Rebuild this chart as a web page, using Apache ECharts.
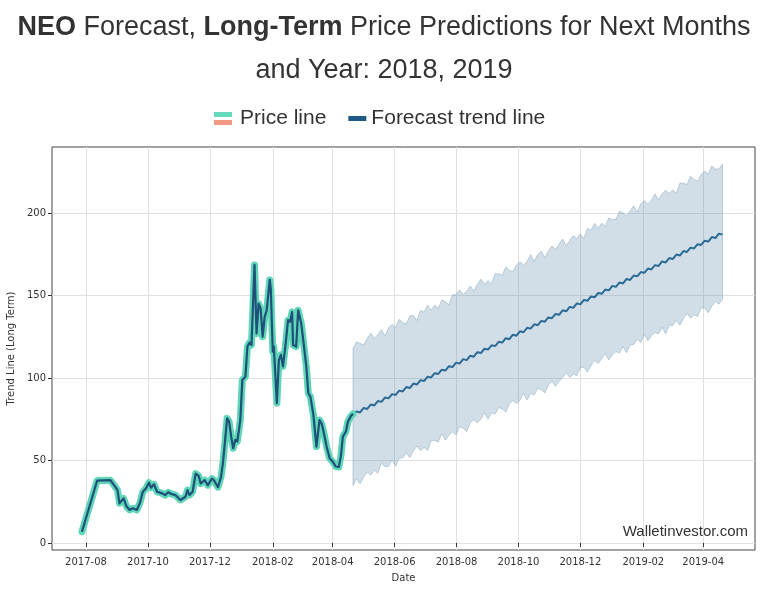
<!DOCTYPE html>
<html>
<head>
<meta charset="utf-8">
<script src="https://cdn.jsdelivr.net/npm/echarts@6/dist/echarts.min.js"></script>
<style>
html,body{margin:0;padding:0;background:#fff;}
#chart{width:768px;height:592px;}
</style>
</head>
<body>
<div id="chart"></div>
<script>
// ---------- data ----------
const priceDates = ['2017-07-28','2017-08-12','2017-08-25','2017-08-29','2017-09-01','2017-09-03','2017-09-07','2017-09-10','2017-09-13','2017-09-16','2017-09-20','2017-09-23','2017-09-26','2017-09-29','2017-10-02','2017-10-04','2017-10-07','2017-10-10','2017-10-15','2017-10-18','2017-10-21','2017-10-24','2017-10-28','2017-11-02','2017-11-07','2017-11-09','2017-11-11','2017-11-14','2017-11-17','2017-11-20','2017-11-22','2017-11-26','2017-11-29','2017-12-03','2017-12-05','2017-12-09','2017-12-12','2017-12-14','2017-12-18','2017-12-20','2017-12-22','2017-12-24','2017-12-26','2017-12-28','2017-12-31','2018-01-02','2018-01-05','2018-01-07','2018-01-09','2018-01-11','2018-01-14','2018-01-16','2018-01-18','2018-01-20','2018-01-22','2018-01-24','2018-01-26','2018-01-29','2018-01-30','2018-02-01','2018-02-02','2018-02-05','2018-02-07','2018-02-09','2018-02-11','2018-02-13','2018-02-16','2018-02-18','2018-02-20','2018-02-21','2018-02-24','2018-02-26','2018-03-01','2018-03-03','2018-03-06','2018-03-08','2018-03-10','2018-03-13','2018-03-16','2018-03-19','2018-03-21','2018-03-23','2018-03-26','2018-03-29','2018-04-01','2018-04-04','2018-04-07','2018-04-09','2018-04-11','2018-04-14','2018-04-16','2018-04-19','2018-04-21'];
const priceValues = [6.8,37.8,38,34.7,32,24,27,22,20,21,20,24,31,33,36.5,33.5,35.5,31,30,29,30.7,29.7,29,26,28,32,29,31,42,40.6,36,38,35,39,38,33.8,40,49,75.5,73.5,64.4,57.4,62.4,61.4,74.5,98.8,100.8,119,121.4,120,168.5,127,145,142,125,137,141,159.4,154,116,119,84.7,111,114,107,117,135,134,140,120,119,141,133,123,107,90.7,88.7,77.6,58.4,74.5,72.5,67.5,58.4,51.3,49.3,46.3,46,52.3,64.4,67.5,73.5,77,78.2];

// forecast sampled every half week starting at forecastStart
const forecastStart = '2018-04-21';
const forecastStepDays = 3.5;
const trendValues = [78.0,79.7,79.1,81.8,81.2,83.9,83.3,86.0,85.5,88.1,87.6,90.2,89.7,92.3,91.8,94.5,93.9,96.6,96.0,98.7,98.1,100.8,100.3,102.9,102.4,105.0,104.5,107.1,106.6,109.3,108.7,111.4,110.8,113.5,112.9,115.6,115.1,117.7,117.2,119.8,119.3,121.9,121.4,124.1,123.5,126.2,125.6,128.3,127.7,130.4,129.9,132.5,132.0,134.6,134.1,136.7,136.2,138.8,138.3,141.0,140.4,143.1,142.5,145.2,144.6,147.3,146.8,149.4,148.9,151.5,151.0,153.6,153.1,155.8,155.2,157.9,157.3,160.0,159.4,162.1,161.6,164.2,163.7,166.3,165.8,168.4,167.9,170.6,170.0,172.7,172.1,174.8,174.2,176.9,176.4,179.0,178.5,181.1,180.6,183.2,182.7,185.4,184.8,187.5,186.9];
const upperValues = [117.8,121.9,120.9,120.0,124.0,127.1,124.1,126.2,129.3,125.3,130.4,132.4,130.5,135.5,133.6,132.7,137.7,137.8,134.8,140.9,139.9,144.0,141.1,144.1,142.2,147.2,146.3,144.3,150.4,150.5,153.5,150.6,152.6,155.7,152.7,156.8,159.9,156.9,159.0,157.0,163.1,163.1,162.2,167.3,165.3,164.4,168.4,170.5,168.5,170.6,174.7,170.7,174.8,176.8,172.9,176.9,180.0,178.0,181.1,184.2,180.2,183.3,186.3,184.4,187.4,184.5,190.6,189.6,193.7,190.7,193.8,191.8,196.9,196.0,196.0,201.1,200.1,198.2,201.2,204.3,200.4,205.4,207.5,205.5,207.6,211.6,207.7,211.8,213.8,211.9,213.9,212.0,218.0,218.1,217.2,222.2,220.3,219.3,223.4,225.4,223.5,228.6,226.6,226.7,229.7];
const lowerValues = [34.8,38.9,35.9,40.0,43.0,41.1,44.1,42.2,48.3,46.3,46.4,50.4,46.5,51.5,51.6,54.7,51.7,55.8,58.8,55.9,57.9,56.0,62.1,62.1,61.2,66.2,62.3,65.3,67.4,65.5,70.5,69.6,67.6,72.7,74.7,72.8,74.9,78.9,75.0,79.0,78.1,82.1,81.2,79.3,84.3,86.4,84.4,86.5,90.5,86.6,90.7,89.7,93.8,92.8,90.9,95.9,98.0,95.0,98.1,100.2,103.2,100.3,102.3,101.4,106.4,106.5,103.6,107.6,110.7,108.7,111.8,114.8,110.9,114.0,116.0,115.1,119.1,115.2,120.2,120.3,123.4,121.4,126.5,122.5,125.6,127.6,126.7,130.8,126.8,131.9,131.9,135.0,132.0,136.1,139.2,136.2,138.3,137.3,142.4,142.4,139.5,143.6,146.6,144.7,147.7];

const xTickLabels = ['2017-08','2017-10','2017-12','2018-02','2018-04','2018-06','2018-08','2018-10','2018-12','2019-02','2019-04'];
const yTickValues = [0,50,100,150,200];

// ---------- build ----------
const DAY = 86400000;
const ts = s => new Date(s + 'T00:00:00').getTime();
const t0 = ts(forecastStart);
const fDates = trendValues.map((_, i) => t0 + i * forecastStepDays * DAY);
const pair = (xs, ys) => ys.map((v, i) => [xs[i], v]);
const priceData = pair(priceDates.map(ts), priceValues);
const trendData = pair(fDates, trendValues);
const upperData = pair(fDates, upperValues);
const lowerData = pair(fDates, lowerValues);
const xTicks = xTickLabels.map(l => ts(l + '-01'));

const chart = echarts.init(document.getElementById('chart'), null, {renderer: 'canvas'});
const axisFont = 'DejaVu Sans';
const titleStyle = {
  fontFamily: 'Liberation Sans', fontSize: 27, fontWeight: 'normal', color: '#333',
  rich: {b: {fontFamily: 'Liberation Sans', fontSize: 27, fontWeight: 'bold', color: '#333'}}
};
chart.setOption({
  animation: false,
  backgroundColor: '#fff',
  title: [
    {left: 'center', top: 14, padding: 0, text: '{b|NEO} Forecast, {b|Long-Term} Price Predictions for Next Months', textStyle: titleStyle},
    {left: 'center', top: 57, padding: 0, text: 'and Year: 2018, 2019', textStyle: titleStyle}
  ],
  legend: {
    left: 214,
    top: 108,
    padding: 0,
    itemWidth: 18,
    itemHeight: 13,
    itemGap: 22,
    selectedMode: false,
    textStyle: {fontFamily: 'Liberation Sans', fontSize: 21, color: '#333'},
    data: [
      {name: 'Price line', icon: 'path://M0,0H18V5H0Z M0,12.9H18V13H0Z', itemStyle: {color: '#66d9bd'},
       textStyle: {padding: [0, 0, 0, 3]}},
      {name: 'Forecast trend line', icon: 'path://M0,4H18V9H0Z M0,0H0.01V13H0Z', itemStyle: {color: '#1e5a85'}}
    ]
  },
  graphic: [
    {type: 'rect', left: 214, top: 120, shape: {width: 18, height: 5}, style: {fill: '#f59a82'}, z: 100},
    {type: 'text', right: 20, top: 524, style: {text: 'Walletinvestor.com', font: '15px "Liberation Sans"', fill: '#333'}, z: 100}
  ],
  grid: {
    left: 52, right: 13, top: 147, bottom: 42,
    outerBoundsMode: 'none',
    containLabel: false,
    show: true, borderColor: '#444', borderWidth: 1, backgroundColor: 'transparent'
  },
  xAxis: {
    type: 'value',
    min: ts('2017-06-28') + DAY / 2,
    max: ts('2019-05-22'),
    name: 'Date',
    nameLocation: 'middle',
    nameGap: 23,
    nameTextStyle: {fontFamily: axisFont, fontSize: 10, color: '#333'},
    axisLine: {show: false},
    axisTick: {show: true, length: 4, lineStyle: {color: '#333'}, customValues: xTicks},
    axisLabel: {
      customValues: xTicks,
      fontFamily: axisFont, fontSize: 10, color: '#333', margin: 7,
      formatter: v => { const d = new Date(v); return d.getFullYear() + '-' + String(d.getMonth() + 1).padStart(2, '0'); }
    },
    splitLine: {show: true, lineStyle: {color: '#e0e0e0', width: 1}}
  },
  yAxis: {
    type: 'value',
    min: -4.3,
    max: 240,
    name: 'Trend Line (Long Term)',
    nameLocation: 'middle',
    nameGap: 36,
    nameTextStyle: {fontFamily: axisFont, fontSize: 10, color: '#333'},
    axisLine: {show: false},
    axisTick: {show: true, length: 4, lineStyle: {color: '#333'}, customValues: yTickValues},
    axisLabel: {customValues: yTickValues, fontFamily: axisFont, fontSize: 10, color: '#333', margin: 6},
    splitLine: {show: true, lineStyle: {color: '#e0e0e0', width: 1}}
  },
  series: [
    {
      name: 'band', type: 'custom', z: 1, silent: true, clip: true,
      data: [[fDates[0], lowerValues[0]]],
      renderItem: (params, api) => {
        const top = upperData.map(p => api.coord(p));
        const bottom = lowerData.slice().reverse().map(p => api.coord(p));
        return {
          type: 'polygon',
          shape: {points: top.concat(bottom)},
          style: {fill: 'rgba(70,120,160,0.25)', stroke: 'rgba(150,180,200,0.6)', lineWidth: 1}
        };
      }
    },
    {
      name: 'Forecast trend line', type: 'line', data: trendData, symbol: 'none', z: 2,
      lineStyle: {color: '#2a6a96', width: 2}
    },
    {
      name: 'Price line', type: 'line', data: priceData, symbol: 'none', z: 3,
      lineStyle: {color: '#5fd6b7', width: 7, join: 'round', cap: 'round'}
    },
    {
      name: 'Price inner', type: 'line', data: priceData, symbol: 'none', z: 4,
      lineStyle: {color: '#1f5079', width: 2.2, join: 'round'}
    }
  ]
});
</script>
</body>
</html>
